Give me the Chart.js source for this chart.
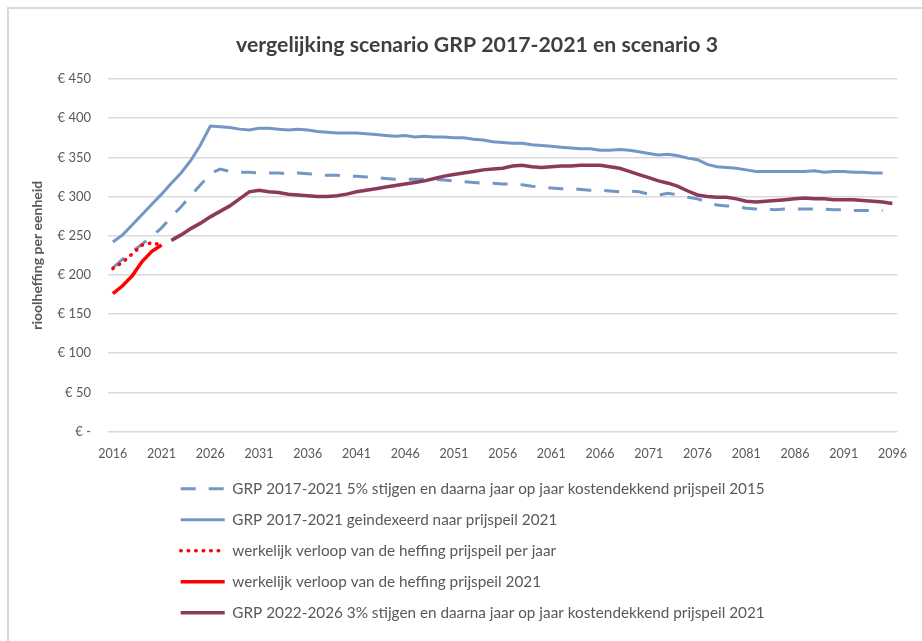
<!DOCTYPE html>
<html>
<head>
<meta charset="utf-8">
<title>vergelijking scenario GRP 2017-2021 en scenario 3</title>
<script src="https://cdn.jsdelivr.net/npm/chart.js@4.4.1/dist/chart.umd.min.js"></script>
<style>
  html, body { margin: 0; padding: 0; background: #fff; }
  #wrap { width: 922px; height: 641px; }
</style>
</head>
<body>
<div id="wrap"><canvas id="grpChart" width="922" height="641"></canvas></div>
<script>
// categories (years on the x axis)
const years = [
  2016, 2017, 2018, 2019, 2020, 2021, 2022, 2023, 2024, 2025,
  2026, 2027, 2028, 2029, 2030, 2031, 2032, 2033, 2034, 2035,
  2036, 2037, 2038, 2039, 2040, 2041, 2042, 2043, 2044, 2045,
  2046, 2047, 2048, 2049, 2050, 2051, 2052, 2053, 2054, 2055,
  2056, 2057, 2058, 2059, 2060, 2061, 2062, 2063, 2064, 2065,
  2066, 2067, 2068, 2069, 2070, 2071, 2072, 2073, 2074, 2075,
  2076, 2077, 2078, 2079, 2080, 2081, 2082, 2083, 2084, 2085,
  2086, 2087, 2088, 2089, 2090, 2091, 2092, 2093, 2094, 2095,
  2096
];

// GRP 2017-2021 5% stijgen ... prijspeil 2015 (2016 - 2095)
const grp5pct = [
  209, 220, 230, 239, 249, 260, 274, 287, 301, 315,
  329, 335, 332, 331, 331, 330, 330, 330, 329, 330,
  329, 328, 327, 327, 326, 326, 325, 324, 323, 322,
  322, 322, 322, 322, 321, 320, 319, 318, 317, 317,
  316, 316, 315, 313, 312, 311, 310, 310, 309, 308,
  308, 307, 306, 307, 306, 303, 302, 304, 302, 299,
  297, 293, 289, 288, 287, 285, 284, 284, 283, 284,
  284, 284, 284, 284, 283, 283, 282, 282, 282, 282
];

// GRP 2017-2021 geindexeerd naar prijspeil 2021 (2016 - 2095)
const grpIndexed = [
  242, 251, 264, 277, 290, 303, 317, 330, 346, 366,
  390, 389, 388, 386, 385, 387, 387, 386, 385, 386,
  385, 383, 382, 381, 381, 381, 380, 379, 378, 377,
  378, 376, 377, 376, 376, 375, 375, 373, 372, 370,
  369, 368, 368, 366, 365, 364, 363, 362, 361, 361,
  359, 359, 360, 359, 357, 355, 353, 354, 352, 349,
  347, 341, 338, 337, 336, 334, 332, 332, 332, 332,
  332, 332, 333, 331, 332, 332, 331, 331, 330, 330
];

// werkelijk verloop (2016 - 2021)
const actualPerYear = [208, 216, 227, 238, 241, 238];
const actual2021 = [176, 186, 199, 217, 230, 238];

// GRP 2022-2026 3% stijgen ... prijspeil 2021 (2022 - 2096)
const grp3pct = [
  244, 251, 259, 266, 274, 281, 288, 297, 306, 308,
  306, 305, 303, 302, 301, 300, 300, 301, 303, 306,
  308, 310, 312, 314, 316, 318, 320, 323, 326, 328,
  330, 332, 334, 335, 336, 339, 340, 338, 337, 338,
  339, 339, 340, 340, 340, 338, 336, 332, 328, 324,
  320, 317, 313, 307, 302, 300, 299, 299, 297, 294,
  293, 294, 295, 296, 297, 298, 297, 297, 296, 296,
  296, 295, 294, 293, 291
];

// put a series that starts in a later year onto the full year axis
function onYears(values, firstYear) {
  return years.map(y => {
    const i = y - firstYear;
    return i >= 0 && i < values.length ? values[i] : null;
  });
}

const blue = '#7397c5';
const maroon = '#8c3a5b';
const red = '#ff0000';

Chart.defaults.font.family = 'Lato, "Open Sans", sans-serif';
Chart.defaults.color = '#595959';

const framePlugin = {
  id: 'frame',
  afterLayout(chart) {
    // one legend entry per row, left aligned under the plot
    chart.legend.left = 165;
    chart.legend.right = 880;
    chart.legend.bottom = chart.height;
    // title is centred a bit right of the canvas middle
    chart.titleBlock.left = 32;
    chart.titleBlock.right = 922;
  },
  beforeDraw(chart) {
    const ctx = chart.ctx;
    ctx.save();
    ctx.strokeStyle = '#d9d9d9';
    ctx.lineWidth = 2;
    ctx.beginPath();
    ctx.moveTo(8, chart.height);
    ctx.lineTo(8, 8);
    ctx.lineTo(chart.width, 8);
    ctx.stroke();
    ctx.restore();
  }
};

const ctx = document.getElementById('grpChart').getContext('2d');
const grpChart = new Chart(ctx, {
  type: 'line',
  data: {
    labels: years,
    datasets: [
      {
        label: 'GRP 2017-2021 5% stijgen en daarna jaar op jaar kostendekkend prijspeil 2015',
        data: onYears(grp5pct, 2016),
        borderColor: blue,
        borderWidth: 3,
        borderDash: [15, 13],
        order: 5
      },
      {
        label: 'GRP 2017-2021 geindexeerd naar prijspeil 2021',
        data: onYears(grpIndexed, 2016),
        borderColor: blue,
        borderWidth: 3,
        order: 4
      },
      {
        label: 'werkelijk verloop van de heffing prijspeil per jaar',
        data: onYears(actualPerYear, 2016),
        borderColor: red,
        borderWidth: 3.5,
        borderDash: [0.5, 7],
        borderCapStyle: 'round',
        order: 3
      },
      {
        label: 'werkelijk verloop van de heffing prijspeil 2021',
        data: onYears(actual2021, 2016),
        borderColor: red,
        borderWidth: 3.5,
        order: 2
      },
      {
        label: 'GRP 2022-2026 3% stijgen en daarna jaar op jaar kostendekkend prijspeil 2021',
        data: onYears(grp3pct, 2022),
        borderColor: maroon,
        borderWidth: 3.5,
        order: 1
      }
    ]
  },
  options: {
    responsive: false,
    animation: false,
    events: [],
    elements: {
      point: { radius: 0 },
      line: { tension: 0, fill: false }
    },
    layout: {
      padding: { left: 20, right: 19, top: 20, bottom: 41.5 }
    },
    scales: {
      x: {
        offset: true,
        grid: { display: false, drawTicks: false },
        border: { display: false },
        ticks: {
          autoSkip: false,
          maxRotation: 0,
          padding: 15,
          font: { size: 12.5 },
          callback: (val, idx) => (idx % 5 === 0 ? years[idx] : null)
        },
        afterFit: s => { s.height = 34; }
      },
      y: {
        min: 0,
        max: 450,
        grid: { color: '#d9d9d9', lineWidth: 1.5, drawTicks: false },
        border: { display: false },
        ticks: {
          stepSize: 50,
          padding: 17,
          font: { size: 13 },
          callback: v => (v === 0 ? '€ -' : '€ ' + v)
        },
        title: {
          display: true,
          text: 'rioolheffing per eenheid',
          font: { size: 14, weight: 'bold' },
          padding: { top: 9, bottom: 0 }
        },
        afterFit: s => { s.width = 88; }
      }
    },
    plugins: {
      title: {
        display: true,
        text: 'vergelijking scenario GRP 2017-2021 en scenario 3',
        color: '#3f3f3f',
        font: { size: 21.25, weight: 'bold' },
        padding: { top: 12.5, bottom: 21 }
      },
      legend: {
        position: 'bottom',
        align: 'start',
        labels: {
          usePointStyle: true,
          pointStyle: 'line',
          pointStyleWidth: 44,
          padding: 15.7,
          font: { size: 15.3 },
          color: '#595959',
          sort: (a, b) => a.datasetIndex - b.datasetIndex,
          // legend samples take the line style of their dataset
          generateLabels: chart => Chart.defaults.plugins.legend.labels.generateLabels(chart).map(item => {
            const ds = chart.data.datasets[item.datasetIndex];
            item.strokeStyle = ds.borderColor;
            item.lineWidth = ds.borderWidth;
            item.lineDash = ds.borderDash || [];
            item.lineCap = ds.borderCapStyle || 'butt';
            return item;
          })
        }
      },
      tooltip: { enabled: false }
    }
  },
  plugins: [framePlugin]
});
</script>
</body>
</html>
